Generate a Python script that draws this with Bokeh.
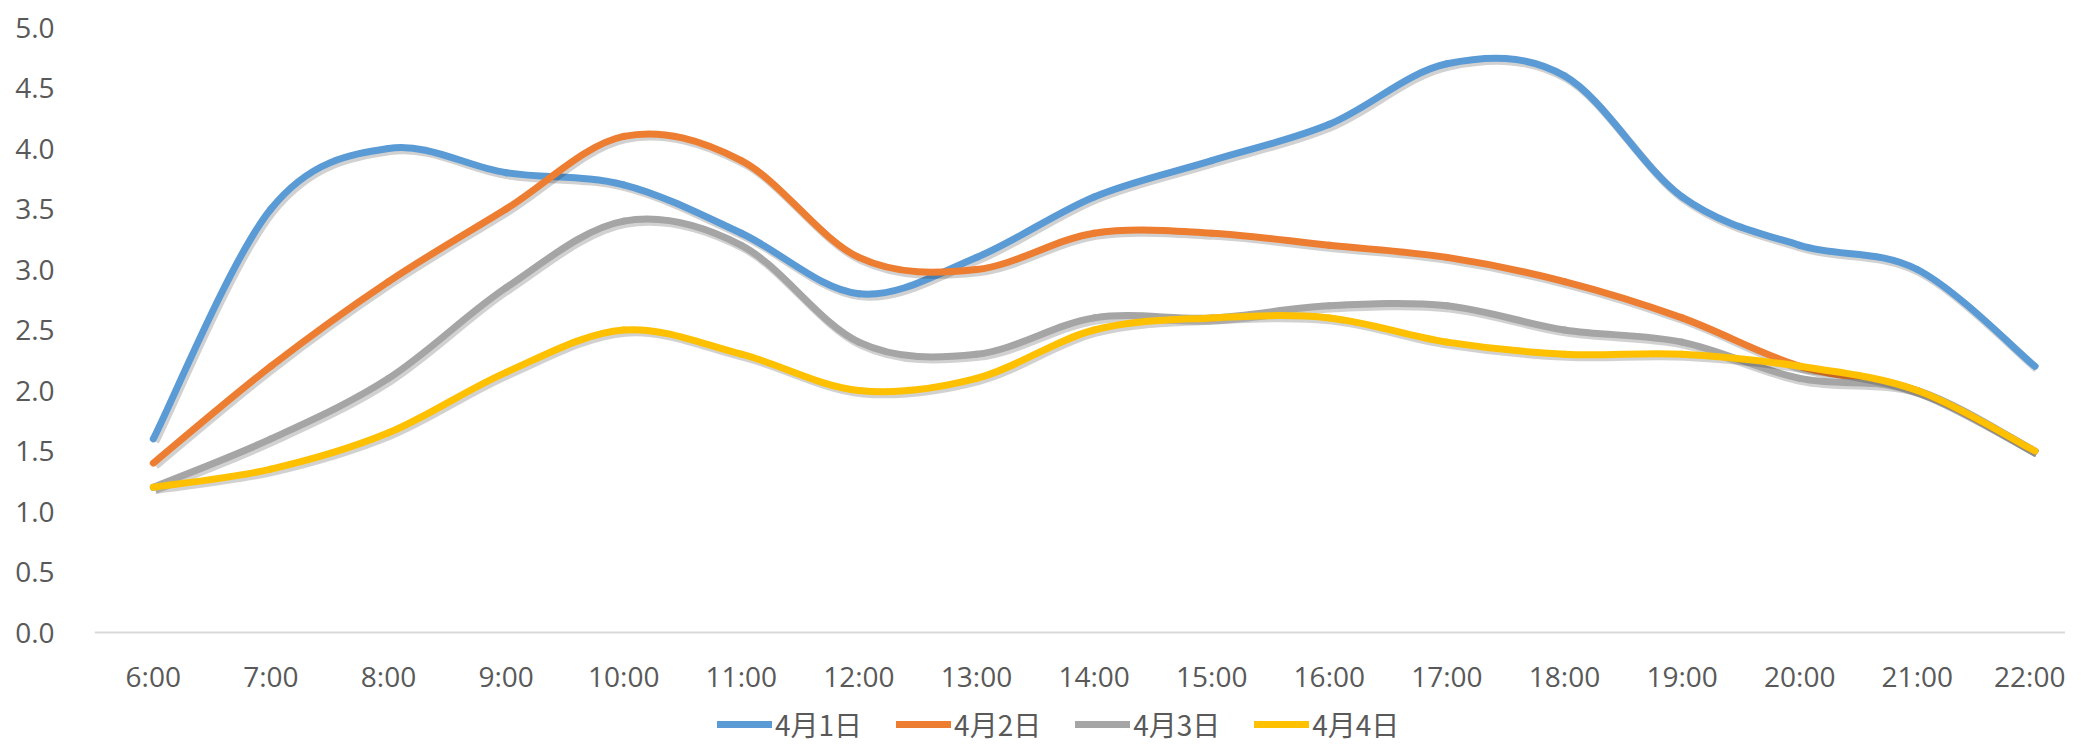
import numpy as np
from bokeh.plotting import figure
from bokeh.models import Legend, LegendItem, FixedTicker, Range1d
from bokeh.embed import file_html
from bokeh.resources import INLINE

hours = ["6:00", "7:00", "8:00", "9:00", "10:00", "11:00", "12:00", "13:00", "14:00",
         "15:00", "16:00", "17:00", "18:00", "19:00", "20:00", "21:00", "22:00"]
day1 = [1.6, 3.5, 4.0, 3.8, 3.7, 3.3, 2.8, 3.1, 3.6, 3.9, 4.2, 4.7, 4.6, 3.6, 3.2, 3.0, 2.2]
day2 = [1.4, 2.2, 2.9, 3.5, 4.1, 3.9, 3.1, 3.0, 3.3, 3.3, 3.2, 3.1, 2.9, 2.6, 2.2, 2.0, 1.5]
day3 = [1.2, 1.6, 2.1, 2.85, 3.4, 3.2, 2.4, 2.3, 2.6, 2.6, 2.7, 2.7, 2.5, 2.4, 2.1, 2.0, 1.5]
day4 = [1.2, 1.35, 1.65, 2.15, 2.5, 2.3, 2.0, 2.1, 2.5, 2.6, 2.6, 2.4, 2.3, 2.3, 2.2, 2.0, 1.5]
labels = ["4月1日", "4月2日", "4月3日", "4月4日"]
colors = ["#5B9BD5", "#ED7D31", "#A5A5A5", "#FFC000"]
series = [day1, day2, day3, day4]
yticks = [0, 0.5, 1, 1.5, 2, 2.5, 3, 3.5, 4, 4.5, 5]

FONT = "Open Sans"
CJK = "Noto Sans CJK SC"
TXT = "#595959"

W, H = 2065, 744
p = figure(width=W, height=H, output_backend="svg", toolbar_location=None,
           x_range=Range1d(-0.5, 16.26), y_range=Range1d(-112 / 121.0, 5.0),
           min_border_left=94, min_border_right=0, min_border_top=27, min_border_bottom=0,
           background_fill_color="white", border_fill_color="white")
p.outline_line_color = None
p.xgrid.visible = False
p.ygrid.visible = False

xs = np.arange(len(hours), dtype=float)


def bezier_segments(x, y):
    x = np.asarray(x, float)
    y = np.asarray(y, float)
    n = len(x)
    xp = np.concatenate([[x[0]], x, [x[-1]]])
    yp = np.concatenate([[y[0]], y, [y[-1]]])
    x0, y0 = x[:-1], y[:-1]
    x1, y1 = x[1:], y[1:]
    cx0 = x0 + (xp[2:n + 1] - xp[0:n - 1]) / 6.0
    cy0 = y0 + (yp[2:n + 1] - yp[0:n - 1]) / 6.0
    cx1 = x1 - (xp[3:n + 2] - xp[1:n]) / 6.0
    cy1 = y1 - (yp[3:n + 2] - yp[1:n]) / 6.0
    return dict(x0=x0, y0=y0, x1=x1, y1=y1, cx0=cx0, cy0=cy0, cx1=cx1, cy1=cy1)


items = []
dx, dy = 0.017, -0.022
for vals, col, lab in zip(series, colors, labels):
    seg = bezier_segments(xs, vals)
    sh = {k: (v + dx if k.startswith(("x", "cx")) else v + dy) for k, v in seg.items()}
    p.bezier(line_color="black", line_alpha=0.18, line_width=8, line_cap="butt", **sh)
    r = p.bezier(line_color=col, line_width=7, line_cap="round", **seg)
    items.append(LegendItem(label=lab, renderers=[r]))

# x axis drawn at y = 0 inside the frame
p.xaxis.fixed_location = 0
p.xaxis.ticker = FixedTicker(ticks=list(range(len(hours))))
p.xaxis.major_label_overrides = {i: h for i, h in enumerate(hours)}
p.xaxis.axis_line_color = "#D9D9D9"
p.xaxis.axis_line_width = 2
p.xaxis.major_tick_line_color = None
p.xaxis.minor_tick_line_color = None
p.xaxis.major_tick_out = 0
p.xaxis.major_tick_in = 0
p.xaxis.major_label_standoff = 24
p.xaxis.major_label_text_font = FONT
p.xaxis.major_label_text_font_size = "28px"
p.xaxis.major_label_text_color = TXT

p.yaxis.ticker = FixedTicker(ticks=yticks)
p.yaxis.major_label_overrides = {v: f"{v:.1f}" for v in yticks}
p.yaxis.axis_line_color = None
p.yaxis.major_tick_line_color = None
p.yaxis.minor_tick_line_color = None
p.yaxis.major_tick_out = 0
p.yaxis.major_tick_in = 0
p.yaxis.major_label_standoff = 40
p.yaxis.major_label_text_font = FONT
p.yaxis.major_label_text_font_size = "28px"
p.yaxis.major_label_text_color = TXT

legend = Legend(items=items, orientation="horizontal", location=(623, 0),
                label_text_font=CJK, label_text_font_size="28px", label_text_color=TXT,
                glyph_width=55, glyph_height=28, label_standoff=3, spacing=34,
                padding=0, margin=0, border_line_color=None, background_fill_alpha=0)
p.add_layout(legend, "center")

open("out.html", "w").write(file_html(p, INLINE))
